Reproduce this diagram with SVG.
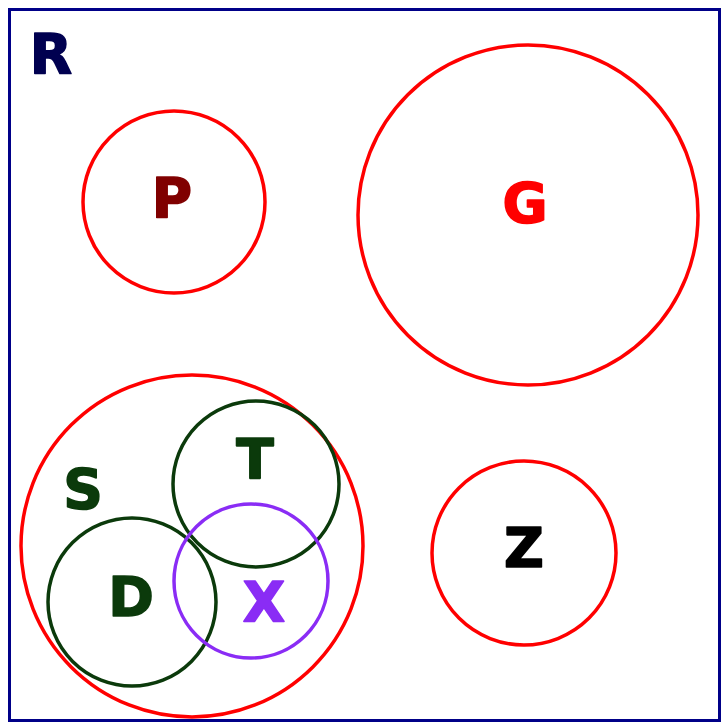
<svg xmlns="http://www.w3.org/2000/svg" width="722" height="724" viewBox="0 0 722 724">
<style>
.lbl{font-family:"DejaVu Sans","Liberation Sans",sans-serif;font-weight:bold;font-size:55px;text-anchor:middle;stroke-width:1.6;stroke-linejoin:round}
.red{fill:none;stroke:#ff0000;stroke-width:3.5}
.grn{fill:none;stroke:#0b3a0b;stroke-width:3.5}
.pur{fill:none;stroke:#8a2cf5;stroke-width:3.5}
</style>
<rect x="0" y="0" width="722" height="724" fill="#ffffff"/>
<g id="R">
<rect x="9.5" y="9.5" width="710" height="711" fill="none" stroke="#000088" stroke-width="3"/>
<text class="lbl" x="51" y="73" fill="#000050" stroke="#000050">R</text>
</g>
<g id="P">
<circle class="red" cx="174" cy="202" r="91"/>
<text class="lbl" x="172" y="217" fill="#800000" stroke="#800000">P</text>
</g>
<g id="G">
<circle class="red" cx="528" cy="215" r="170"/>
<text class="lbl" x="525" y="222" fill="#ff0000" stroke="#ff0000">G</text>
</g>
<g id="Z">
<circle class="red" cx="524" cy="553" r="92"/>
<text class="lbl" x="524" y="567" fill="#000000" stroke="#000000">Z</text>
</g>
<g id="S">
<circle class="red" cx="192" cy="546" r="171"/>
<text class="lbl" x="83" y="508" fill="#0b3a0b" stroke="#0b3a0b">S</text>
</g>
<g id="T">
<circle class="grn" cx="256" cy="484" r="83"/>
<text class="lbl" x="255" y="478" fill="#0b3a0b" stroke="#0b3a0b">T</text>
</g>
<g id="D">
<circle class="grn" cx="132" cy="602" r="84"/>
<text class="lbl" x="131" y="616" fill="#0b3a0b" stroke="#0b3a0b">D</text>
</g>
<g id="X">
<circle class="pur" cx="251" cy="581" r="77"/>
<text class="lbl" x="264" y="621" fill="#8a2cf5" stroke="#8a2cf5">X</text>
</g>
<g id="connectors"></g>
</svg>
